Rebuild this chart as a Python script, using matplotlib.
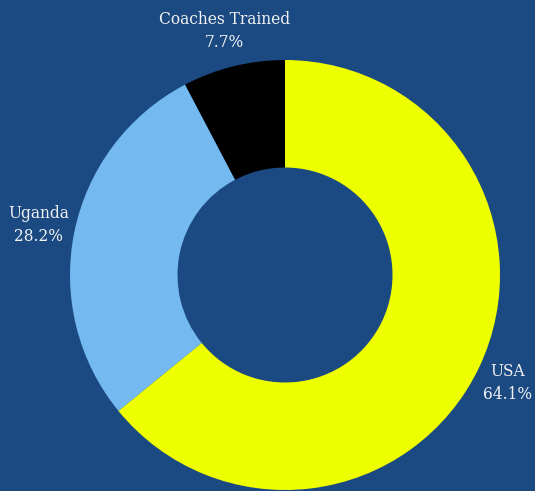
import matplotlib.pyplot as plt

labels = ["Coaches Trained", "Uganda", "USA"]
shares = [7.7, 28.2, 64.1]
colors = ["#000000", "#74baf0", "#eeff00"]
bg = "#1b4a82"

fig = plt.figure(figsize=(5.35, 4.91), dpi=100, facecolor=bg)
ax = fig.add_axes([0, 0, 1, 1])
ax.set_facecolor(bg)

wedges, texts = ax.pie(shares, colors=colors, startangle=90, counterclock=True,
                       radius=1, wedgeprops=dict(width=0.5, linewidth=0),
                       labels=[f"{l}\n{s:.1f}%" for l, s in zip(labels, shares)],
                       labeldistance=1.17,
                       textprops=dict(color="#f2f2f2", fontsize=11.2, family="DejaVu Serif",
                                      ha="center", va="center", linespacing=1.45))
for t in texts:
    t.set_horizontalalignment("center")
    t.set_verticalalignment("center")
# keep the USA label inside the right edge
x, y = texts[2].get_position()
texts[2].set_position((x - 0.02, y))

ax.set_aspect("equal")
ax.set_xlim(-285 / 215, 250 / 215)
ax.set_ylim(-216 / 215, 275 / 215)
ax.axis("off")

fig.savefig("out.png", dpi=100, facecolor=bg)
